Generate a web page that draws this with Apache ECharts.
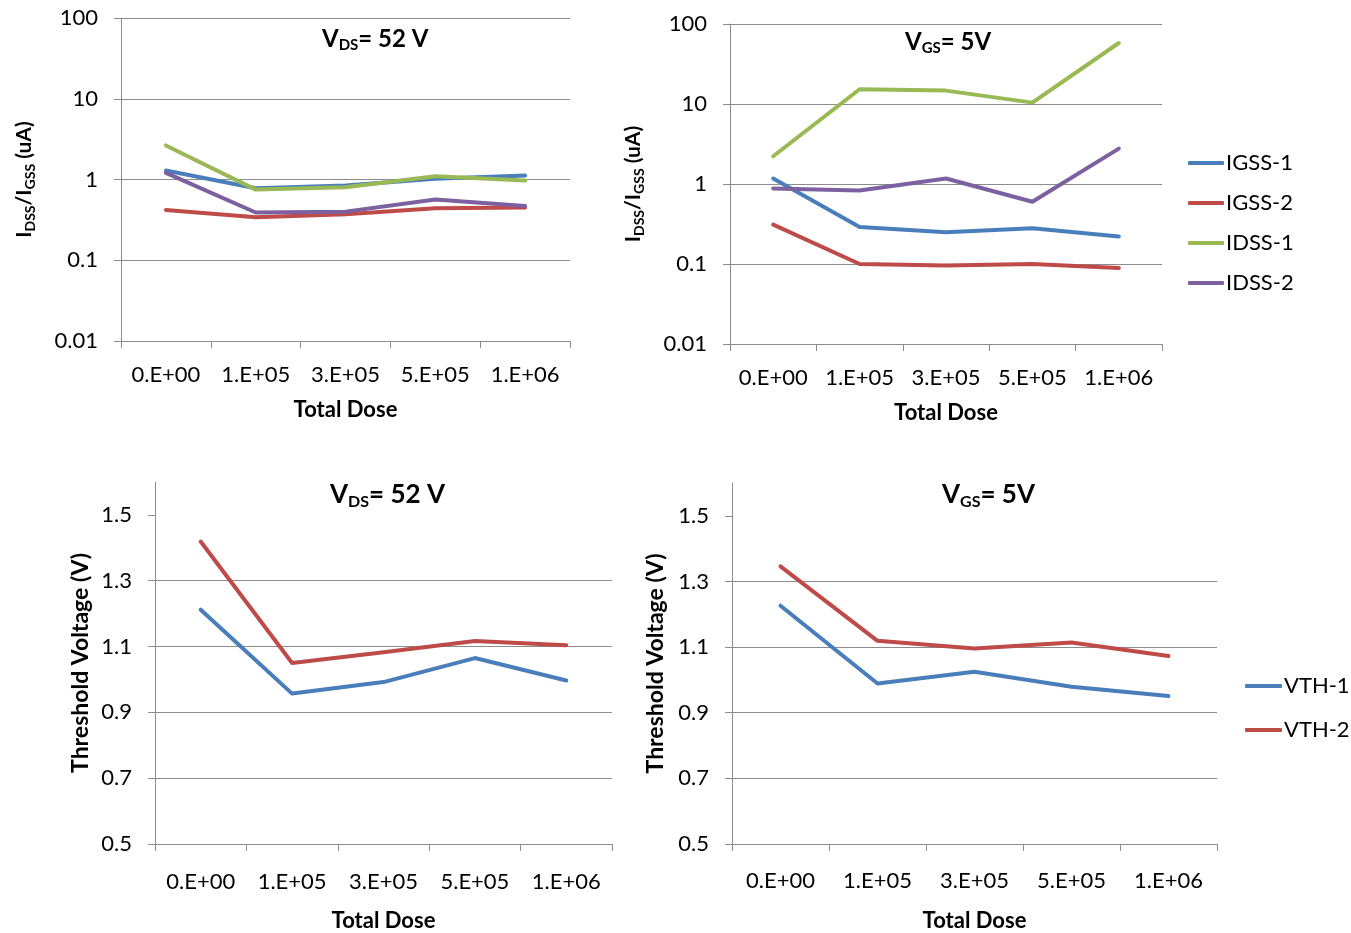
<!DOCTYPE html>
<html>
<head>
    <meta charset="utf-8">
    <script src="https://cdn.jsdelivr.net/npm/echarts@6/dist/echarts.min.js"></script>
    <style>
        html, body { margin: 0; padding: 0; background: #fff; }
        #main { width: 1351px; height: 933px; }
    </style>
</head>
<body>
    <div id="main"></div>
    <script>
        // total dose categories (x axis of all four panels)
        var doses = ['0.E+00', '1.E+05', '3.E+05', '5.E+05', '1.E+06'];
        var logTickLabels = ['0.01', '0.1', '1', '10', '100'];
        var vthTicks = [0.5, 0.7, 0.9, 1.1, 1.3, 1.5];

        // leakage currents (uA), V_DS = 52 V
        var igss1Vds = [1.29, 0.78, 0.84, 1.02, 1.12];
        var igss2Vds = [0.42, 0.34, 0.37, 0.44, 0.45];
        var idss1Vds = [2.64, 0.75, 0.80, 1.10, 0.97];
        var idss2Vds = [1.21, 0.39, 0.40, 0.565, 0.47];

        // leakage currents (uA), V_GS = 5 V
        var igss1Vgs = [1.17, 0.29, 0.25, 0.28, 0.22];
        var igss2Vgs = [0.31, 0.10, 0.096, 0.10, 0.089];
        var idss1Vgs = [2.22, 15.3, 14.7, 10.4, 57.9];
        var idss2Vgs = [0.88, 0.83, 1.17, 0.60, 2.77];

        // threshold voltage (V)
        var vth1Vds = [1.212, 0.957, 0.992, 1.065, 0.997];
        var vth2Vds = [1.419, 1.050, 1.083, 1.117, 1.104];
        var vth1Vgs = [1.226, 0.989, 1.025, 0.979, 0.951];
        var vth2Vgs = [1.346, 1.119, 1.096, 1.114, 1.073];

        var FONT = 'Lato, "Open Sans", sans-serif';
        var GRID_COLOR = '#8c8c8c';
        var BLUE = '#4a7ebb', RED = '#be4b48', GREEN = '#98b954', PURPLE = '#7d60a0';

        var grids = [
            {left: 121, top: 18, width: 449, height: 323},
            {left: 730, top: 24, width: 432, height: 320},
            {left: 155, top: 482, width: 457, height: 363},
            {left: 732, top: 483, width: 485, height: 361}
        ];

        function titleOf(main, sub, rest, left, top, size) {
            return {
                text: '{m|' + main + '}{s|' + sub + '}{m|' + rest + '}',
                left: left,
                top: top,
                padding: 0,
                textStyle: {
                    rich: {
                        m: {fontFamily: FONT, fontSize: size, fontWeight: 'bold', color: '#000', lineHeight: size + 4},
                        s: {fontFamily: FONT, fontSize: Math.round(size * 0.62), fontWeight: 'bold', color: '#000',
                            verticalAlign: 'bottom', lineHeight: 12}
                    }
                }
            };
        }

        function xAxisOf(gridIndex, labelMargin, nameGap) {
            return {
                type: 'category',
                gridIndex: gridIndex,
                data: doses,
                name: 'Total Dose',
                nameLocation: 'middle',
                nameGap: nameGap,
                nameTextStyle: {fontFamily: FONT, fontSize: 22, fontWeight: 'bold', color: '#000'},
                axisLine: {lineStyle: {color: GRID_COLOR, width: 1}},
                axisTick: {show: true, length: 7, lineStyle: {color: GRID_COLOR}},
                axisLabel: {fontFamily: FONT, fontSize: 22, color: '#000', margin: labelMargin, interval: 0},
                splitLine: {show: false}
            };
        }

        var richName = function (size) {
            return {
                m: {fontFamily: FONT, fontSize: size, fontWeight: 'bold', color: '#000', lineHeight: size + 4},
                s: {fontFamily: FONT, fontSize: Math.round(size * 0.65), fontWeight: 'bold', color: '#000',
                    verticalAlign: 'bottom', lineHeight: 10}
            };
        };

        function logAxisOf(gridIndex, nameGap) {
            return {
                type: 'log',
                logBase: 10,
                gridIndex: gridIndex,
                min: 0.01,
                max: 100,
                name: '{m|I}{s|DSS}{m|/I}{s|GSS}{m| (uA)}',
                nameLocation: 'middle',
                nameRotate: 90,
                nameGap: nameGap,
                nameTextStyle: {rich: richName(21)},
                axisLine: {show: true, lineStyle: {color: GRID_COLOR, width: 1}},
                axisTick: {show: true, length: 7, lineStyle: {color: GRID_COLOR}},
                axisLabel: {
                    fontFamily: FONT, fontSize: 22, color: '#000', margin: 23,
                    formatter: function (v) {
                        return logTickLabels[Math.round(Math.log10(v)) + 2];
                    }
                },
                minorTick: {show: false},
                splitLine: {show: true, lineStyle: {color: GRID_COLOR, width: 1}}
            };
        }

        function vthAxisOf(gridIndex, nameGap) {
            return {
                type: 'value',
                gridIndex: gridIndex,
                min: 0.5,
                max: 1.6,
                interval: 0.2,
                name: 'Threshold Voltage (V)',
                nameLocation: 'middle',
                nameRotate: 90,
                nameGap: nameGap,
                nameTextStyle: {fontFamily: FONT, fontSize: 23, fontWeight: 'bold', color: '#000'},
                axisLine: {show: true, lineStyle: {color: GRID_COLOR, width: 1}},
                axisTick: {show: true, length: 7, lineStyle: {color: GRID_COLOR}, customValues: vthTicks},
                axisLabel: {
                    fontFamily: FONT, fontSize: 22, color: '#000', margin: 23,
                    customValues: vthTicks,
                    formatter: function (v) { return v.toFixed(1); }
                },
                splitLine: {show: true, showMaxLine: false, lineStyle: {color: GRID_COLOR, width: 1}}
            };
        }

        function lineOf(name, data, color, idx) {
            return {
                name: name,
                type: 'line',
                xAxisIndex: idx,
                yAxisIndex: idx,
                data: data,
                symbol: 'none',
                color: color,
                lineStyle: {width: 4, color: color, cap: 'round', join: 'round'},
                silent: true,
                animation: false
            };
        }

        var option = {
            backgroundColor: '#fff',
            animation: false,
            title: [
                titleOf('V', 'DS', '= 52 V', 322, 25, 24),
                titleOf('V', 'GS', '= 5V', 905, 28, 24),
                titleOf('V', 'DS', '= 52 V', 330, 480, 26),
                titleOf('V', 'GS', '= 5V', 942, 480, 26)
            ],
            legend: [
                {
                    data: ['IGSS-1', 'IGSS-2', 'IDSS-1', 'IDSS-2'],
                    orient: 'vertical',
                    left: 1188,
                    top: 152,
                    padding: 0,
                    itemWidth: 36,
                    itemHeight: 4,
                    itemGap: 18,
                    icon: 'roundRect',
                    selectedMode: false,
                    textStyle: {fontFamily: FONT, fontSize: 22, color: '#000', padding: [0, 0, 0, -3]}
                },
                {
                    data: ['VTH-1', 'VTH-2'],
                    orient: 'vertical',
                    left: 1245,
                    top: 675,
                    padding: 0,
                    itemWidth: 37,
                    itemHeight: 4,
                    itemGap: 22,
                    icon: 'roundRect',
                    selectedMode: false,
                    textStyle: {fontFamily: FONT, fontSize: 22, color: '#000', padding: [0, 0, 0, -3]}
                }
            ],
            grid: grids,
            xAxis: [
                xAxisOf(0, 23, 58),
                xAxisOf(1, 23, 58),
                xAxisOf(2, 27, 66),
                xAxisOf(3, 26, 66)
            ],
            yAxis: [
                logAxisOf(0, 84),
                logAxisOf(1, 84),
                vthAxisOf(2, 63),
                vthAxisOf(3, 65)
            ],
            series: [
                lineOf('IGSS-1', igss1Vds, BLUE, 0),
                lineOf('IGSS-2', igss2Vds, RED, 0),
                lineOf('IDSS-1', idss1Vds, GREEN, 0),
                lineOf('IDSS-2', idss2Vds, PURPLE, 0),
                lineOf('IGSS-1', igss1Vgs, BLUE, 1),
                lineOf('IGSS-2', igss2Vgs, RED, 1),
                lineOf('IDSS-1', idss1Vgs, GREEN, 1),
                lineOf('IDSS-2', idss2Vgs, PURPLE, 1),
                lineOf('VTH-1', vth1Vds, BLUE, 2),
                lineOf('VTH-2', vth2Vds, RED, 2),
                lineOf('VTH-1', vth1Vgs, BLUE, 3),
                lineOf('VTH-2', vth2Vgs, RED, 3)
            ]
        };

        var chart = echarts.init(document.getElementById('main'));
        chart.setOption(option);
    </script>
</body>
</html>
